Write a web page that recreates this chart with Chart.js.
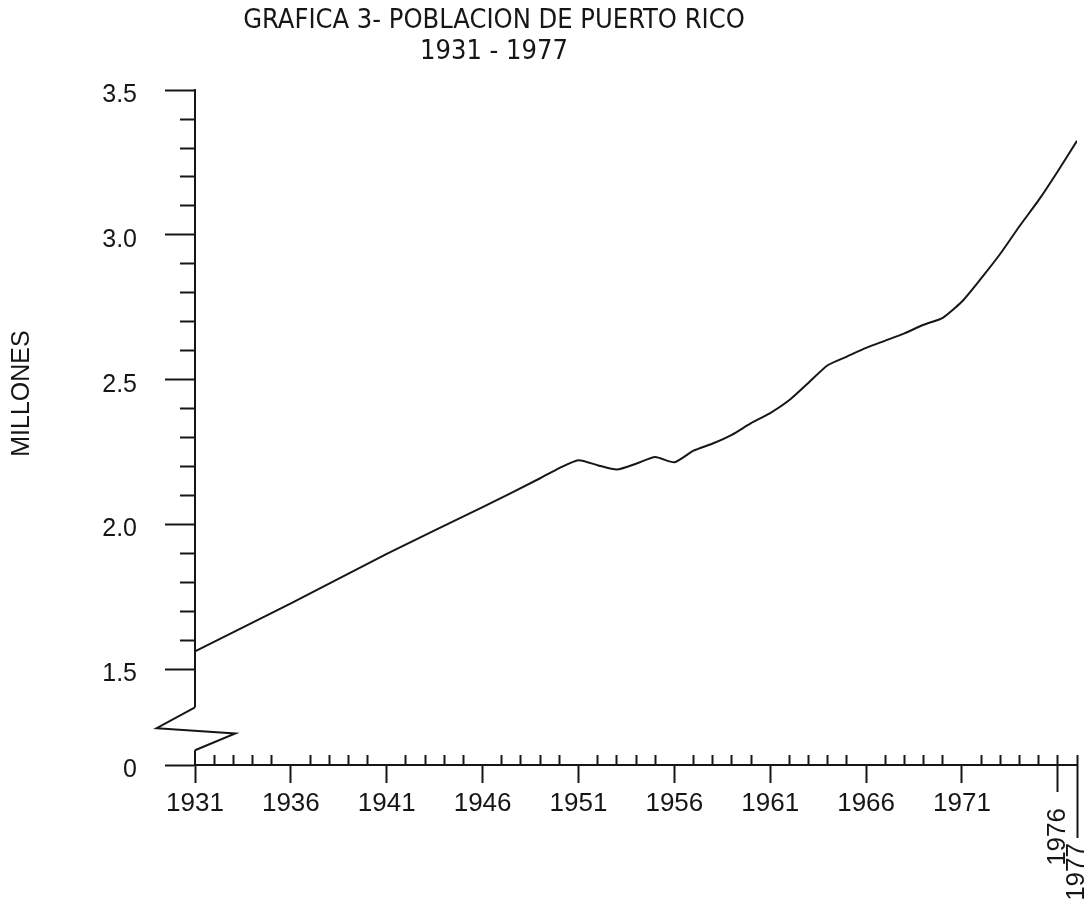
<!DOCTYPE html>
<html>
<head>
<meta charset="utf-8">
<script src="https://cdn.jsdelivr.net/npm/chart.js@4.4.0/dist/chart.umd.min.js"></script>
<style>
html,body{margin:0;padding:0;background:#fff}
#wrap{width:1091px;height:902px;position:relative}
</style>
</head>
<body>
<div id="wrap"><canvas id="c"></canvas></div>
<script>
// ---- data ----
const titleLines = ['GRAFICA 3- POBLACION DE PUERTO RICO', '1931 - 1977'];
const yAxisTitle = 'MILLONES';

const years = [1931, 1936, 1941, 1946, 1949, 1950, 1951, 1952, 1953, 1954, 1955, 1956, 1957, 1958,
               1959, 1960, 1961, 1962, 1963, 1964, 1965, 1966, 1967, 1968, 1969, 1970, 1971, 1972,
               1973, 1974, 1975, 1976, 1977];
const population = [1.562, 1.728, 1.899, 2.06, 2.16, 2.195, 2.222, 2.205, 2.19, 2.21, 2.233, 2.215, 2.255, 2.28,
                    2.31, 2.35, 2.385, 2.43, 2.49, 2.55, 2.58, 2.61, 2.635, 2.66, 2.69, 2.714, 2.77, 2.85,
                    2.935, 3.03, 3.12, 3.22, 3.325];

const majorYearTicks = [1931, 1936, 1941, 1946, 1951, 1956, 1961, 1966, 1971];
const minorYearTicks = [1932, 1933, 1934, 1935, 1937, 1938, 1939, 1940, 1942, 1943, 1944, 1945,
                        1947, 1948, 1949, 1950, 1952, 1953, 1954, 1955, 1957, 1958, 1959, 1960,
                        1962, 1963, 1964, 1965, 1967, 1968, 1969, 1970, 1972, 1973, 1974, 1975,
                        1976, 1977];
const yearTick1976 = [1976];
const yearTick1977 = [1977];

const yBase = 1.17;                 // broken-axis base, labelled "0"
const yTop = 3.5;
const yMajorTicks = [1.17, 1.5, 2.0, 2.5, 3.0, 3.5];
const yMinorTicks = [1.6, 1.7, 1.8, 1.9, 2.1, 2.2, 2.3, 2.4, 2.6, 2.7, 2.8, 2.9, 3.1, 3.2, 3.3, 3.4];

// axis-break zig-zag (in data units)
const breakX = [1931, 1929.0, 1933.1, 1931];
const breakY = [1.369, 1.297, 1.279, 1.221];

// ---- styling ----
const INK = '#161616';
const SANS = "'Liberation Sans', Arial, sans-serif";
const NARROW = "'Liberation Sans Narrow', 'DejaVu Sans Condensed', 'Liberation Sans', sans-serif";

const setTicks = list => s => { s.ticks = list.map(v => ({ value: v })); };
const noSidePadding = s => { s.paddingLeft = 0; s.paddingRight = 0; };

const decorPlugin = {
  id: 'decor',
  afterLayout(chart) {
    const t = chart.titleBlock;
    if (t) { t.left = 0; t.right = 988; }
  },
  afterDraw(chart) {
    const xs = chart.scales.x, ys = chart.scales.y, ctx = chart.ctx;
    const X = v => xs.getPixelForValue(v), Y = v => ys.getPixelForValue(v);
    ctx.save();
    // axis break
    ctx.fillStyle = '#fff';
    ctx.fillRect(X(breakX[0]) - 3, Y(breakY[0]), 6, Y(breakY[3]) - Y(breakY[0]));
    ctx.strokeStyle = INK;
    ctx.lineWidth = 2;
    ctx.beginPath();
    breakX.forEach((bx, i) => {
      if (i === 0) ctx.moveTo(X(bx), Y(breakY[i])); else ctx.lineTo(X(bx), Y(breakY[i]));
    });
    ctx.stroke();
    // y-axis title
    const ca = chart.chartArea;
    ctx.translate(22, (ca.top + ca.bottom) / 2 - 34);
    ctx.rotate(-Math.PI / 2);
    ctx.fillStyle = INK;
    ctx.font = "25px " + SANS;
    ctx.textAlign = 'center';
    ctx.textBaseline = 'middle';
    ctx.fillText(yAxisTitle, 0, 0);
    ctx.restore();
  }
};

const tickFont = { family: SANS, size: 26 };

new Chart(document.getElementById('c'), {
  type: 'line',
  data: {
    datasets: [{
      data: years.map((x, i) => ({ x, y: population[i] })),
      borderColor: INK,
      borderWidth: 2,
      pointRadius: 0,
      tension: 0.2,
      fill: false
    }]
  },
  options: {
    responsive: true,
    maintainAspectRatio: false,
    animation: false,
    layout: { padding: { left: 0, right: 14, top: 0, bottom: 0 } },
    plugins: {
      legend: { display: false },
      tooltip: { enabled: false },
      title: {
        display: true,
        text: titleLines,
        color: INK,
        font: { family: NARROW, size: 27, weight: 'normal', lineHeight: 1.15 },
        padding: { top: 5, bottom: 23 }
      }
    },
    scales: {
      x: {
        type: 'linear', position: 'bottom', min: 1931, max: 1977,
        afterBuildTicks: setTicks(majorYearTicks),
        afterFit: s => { s.height = 137; noSidePadding(s); },
        ticks: { callback: v => String(v), font: tickFont, color: INK, padding: 5,
                 maxRotation: 0, minRotation: 0, autoSkip: false },
        grid: { drawOnChartArea: false, tickLength: 18, tickWidth: 2, tickColor: INK },
        border: { display: true, color: INK, width: 2 }
      },
      x76: {
        type: 'linear', axis: 'x', position: { y: yBase }, min: 1931, max: 1977,
        afterBuildTicks: setTicks(yearTick1976),
        afterFit: noSidePadding,
        ticks: { callback: v => String(v), font: tickFont, color: INK, padding: 16,
                 maxRotation: 90, minRotation: 90, autoSkip: false },
        grid: { drawOnChartArea: false, tickLength: 27, tickWidth: 2, tickColor: INK },
        border: { display: false }
      },
      x77: {
        type: 'linear', axis: 'x', position: { y: yBase }, min: 1931, max: 1977,
        afterBuildTicks: setTicks(yearTick1977),
        afterFit: noSidePadding,
        ticks: { callback: v => String(v), font: tickFont, color: INK, padding: 5,
                 maxRotation: 90, minRotation: 90, autoSkip: false },
        grid: { drawOnChartArea: false, tickLength: 73, tickWidth: 2, tickColor: INK },
        border: { display: false }
      },
      xMinor: {
        type: 'linear', axis: 'x', position: { y: yBase }, min: 1931, max: 1977,
        afterBuildTicks: setTicks(minorYearTicks),
        afterFit: noSidePadding,
        ticks: { display: false },
        grid: { drawOnChartArea: false, tickLength: -10, tickWidth: 2, tickColor: INK },
        border: { display: false }
      },
      y: {
        type: 'linear', position: 'left', min: yBase, max: yTop,
        afterBuildTicks: setTicks(yMajorTicks),
        afterFit: s => { s.width = 195; },
        ticks: { callback: v => (v === yBase ? '0' : v.toFixed(1)), font: { family: SANS, size: 25 },
                 color: INK, padding: 28, labelOffset: 5, autoSkip: false },
        grid: { drawOnChartArea: false, tickLength: 30, tickWidth: 2, tickColor: INK },
        border: { display: true, color: INK, width: 2 },
        title: { display: false, text: yAxisTitle }
      },
      yMinor: {
        type: 'linear', axis: 'y', position: { x: 1931 }, min: yBase, max: yTop,
        afterBuildTicks: setTicks(yMinorTicks),
        ticks: { display: false },
        grid: { drawOnChartArea: false, tickLength: 15, tickWidth: 2, tickColor: INK },
        border: { display: false }
      }
    }
  },
  plugins: [decorPlugin]
});
</script>
</body>
</html>
